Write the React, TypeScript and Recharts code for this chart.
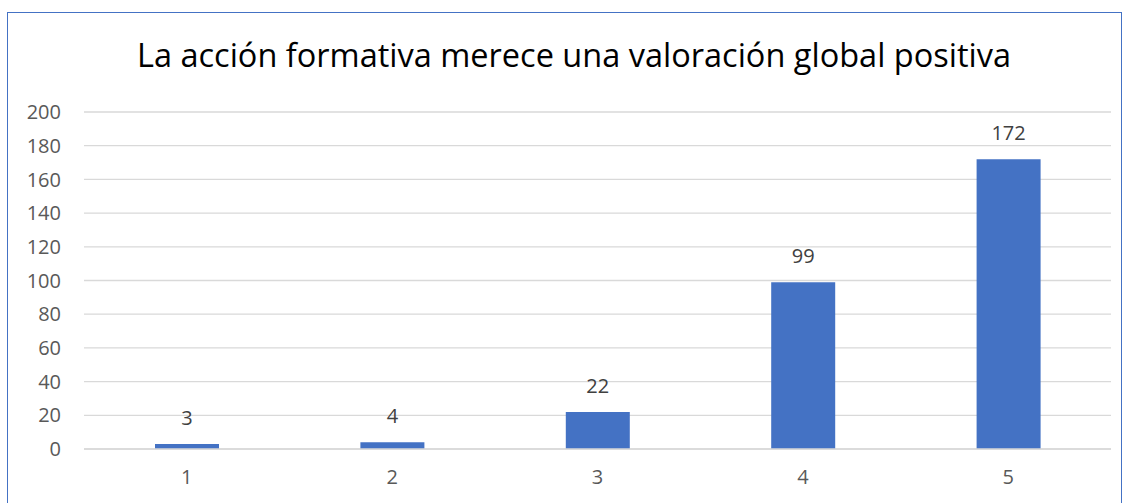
import { Bar, BarChart, CartesianGrid, LabelList, XAxis, YAxis } from 'recharts';

const TITLE = 'La acción formativa merece una valoración global positiva';
const CATEGORIES = ['1', '2', '3', '4', '5'];
const VALUES = [3, 4, 22, 99, 172];
const Y_TICKS = [0, 20, 40, 60, 80, 100, 120, 140, 160, 180, 200];

const FONT = '"Open Sans", "Noto Sans", sans-serif';
const BLUE = '#4472C4';

export default function App() {
  const data = CATEGORIES.map((category, i) => ({ category, value: VALUES[i] }));

  return (
    <div style={{ position: 'absolute', left: 0, top: 0, width: 1125, height: 503, overflow: 'hidden', background: '#fff', fontFamily: FONT }}>
      <div
        style={{
          position: 'absolute',
          left: 7,
          top: 12,
          width: 1115,
          height: 520,
          border: `1.5px solid ${BLUE}`,
          boxSizing: 'border-box',
        }}
      />
      <div
        style={{
          position: 'absolute',
          left: 0,
          top: 35,
          width: 1148,
          textAlign: 'center',
          fontSize: 32.5,
          color: '#000',
          lineHeight: '40px',
          whiteSpace: 'nowrap',
        }}
      >
        {TITLE}
      </div>
      <BarChart
        width={1125}
        height={503}
        data={data}
        margin={{ top: 112, right: 14, bottom: 24, left: 0 }}
        style={{ position: 'absolute', left: 0, top: 0 }}
      >
        <CartesianGrid stroke="#d9d9d9" strokeWidth={1.3} vertical={false} />
        <XAxis
          dataKey="category"
          axisLine={{ stroke: '#d9d9d9', strokeWidth: 1.3 }}
          tickLine={false}
          tickMargin={15}
          height={30}
          tick={{ fill: '#595959', fontSize: 20, fontFamily: FONT }}
        />
        <YAxis
          width={84}
          domain={[0, 200]}
          ticks={Y_TICKS}
          axisLine={false}
          tickLine={false}
          tickMargin={17}
          interval={0}
          tick={{ fill: '#595959', fontSize: 20, fontFamily: FONT }}
        />
        <Bar dataKey="value" fill={BLUE} barSize={64} isAnimationActive={false}>
          <LabelList dataKey="value" position="top" offset={19} fill="#404040" fontSize={20} fontFamily={FONT} />
        </Bar>
      </BarChart>
    </div>
  );
}
